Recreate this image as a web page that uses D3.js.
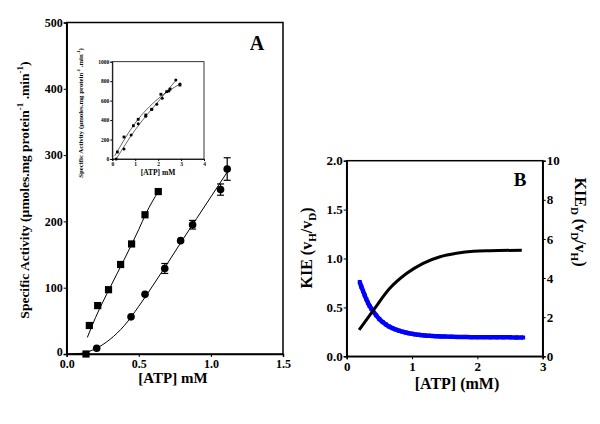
<!DOCTYPE html>
<html><head><meta charset="utf-8">
<script src="https://cdn.jsdelivr.net/npm/d3@7"></script>
<style>body{margin:0;background:#fff}svg{display:block}svg text{font-family:"Liberation Serif",serif !important;font-weight:bold}</style>
</head><body><svg id="c" width="600" height="424"></svg>
<script>
// Panel A main data
const sqX = [0.134,0.157,0.215,0.29,0.374,0.45,0.543,0.635];
const sqY = [0,43,73,97,135,166,210,245];
const sqFitX = [0.143,0.2,0.3,0.4,0.5,0.55,0.635];
const sqFitY = [25,55,100,143,188,212,245];
const ciX = [0.208,0.446,0.543,0.68,0.79,0.873,1.067,1.113];
const ciY = [8.6,56,90,129,171,195,248,279];
const ciErr = [0,0,0,7.5,0,6.5,8.5,17];
const ciFitX = [0.0,0.1,0.2,0.3,0.4,0.5,0.6,0.7,0.8,0.9,1.0,1.1,1.115];
const ciFitY = [0,1,8,22,43,72,104,137,171,204,237,270,275];
// Inset data
const inAX = [0.22,0.51,0.92,1.13,1.46,1.72,2.12,2.37,2.52,2.95];
const inAY = [72,226,342,408,452,511,665,692,719,760];
const inBX = [0.17,0.51,0.82,1.13,1.46,1.72,1.94,2.18,2.47,2.77,2.95];
const inBY = [0,103,247,363,440,511,562,624,700,812,770];
const inAFitX = [0.1,1.0,2.0,2.95];
const inAFitY = [30,370,620,770];
const inBFitX = [0.17,1.0,2.0,2.8];
const inBFitY = [0,300,590,815];
// Panel B data
const kieX = [0.19,0.41,0.66,0.92,1.17,1.43,1.68,1.94,2.19,2.68];
const kieY = [0.269,0.473,0.695,0.849,0.951,1.018,1.053,1.074,1.080,1.084];
const kieDX = [0.20,0.225,0.25,0.275,0.30,0.325,0.35,0.375,0.40,0.45,0.50,0.55,0.60,0.65,0.70,0.75,0.80,0.85,0.90,0.95,1.00,1.05,1.10,1.15,1.20,1.25,1.30,1.35,1.40,1.45,1.50,1.60,1.70,1.80,1.90,2.00,2.10,2.20,2.30,2.40,2.50,2.60,2.70];
const kieDY = [3.80,3.55,3.34,3.12,2.92,2.74,2.58,2.44,2.32,2.10,1.90,1.75,1.63,1.52,1.44,1.37,1.31,1.26,1.22,1.18,1.15,1.12,1.10,1.08,1.06,1.05,1.04,1.03,1.02,1.015,1.01,1.00,0.99,0.99,0.98,0.98,0.98,0.97,0.97,0.97,0.97,0.96,0.96];

const svg = d3.select("#c");
const black="#000";
const FONT = "Liberation Serif";
function styleAxis(g, size){
  g.attr("font-family",FONT);
  g.select(".domain").attr("stroke-width",1.5);
  g.selectAll("text").attr("font-size",size).attr("fill",black).attr("font-family",FONT).attr("font-weight","bold");
}

// ---------- Panel A ----------
const ax = d3.scaleLinear().domain([0,1.5]).range([66.7,283]);
const ay = d3.scaleLinear().domain([0,500]).range([354,22.5]);
const gA = svg.append("g");
gA.append("rect").attr("x",66.7).attr("y",22.5).attr("width",283-66.7).attr("height",354-22.5).attr("fill","none").attr("stroke",black).attr("stroke-width",1.5);
const axA = gA.append("g").attr("transform","translate(0,354)").call(d3.axisBottom(ax).tickValues([0,0.5,1.0,1.5]).tickFormat(d3.format(".1f")).tickSizeOuter(0).tickSize(3).tickPadding(2));
const ayA = gA.append("g").attr("transform","translate(66.7,0)").call(d3.axisLeft(ay).tickValues([0,100,200,300,400,500]).tickFormat(d3.format("d")).tickSizeOuter(0).tickSize(3).tickPadding(1));
styleAxis(axA,12); styleAxis(ayA,12);
ayA.selectAll(".tick").filter(d=>d===0).select("text").attr("dy","0.1em");
const line = (sx,sy)=>d3.line().x(d=>sx(d[0])).y(d=>sy(d[1])).curve(d3.curveMonotoneX);
gA.append("path").attr("d",line(ax,ay)(d3.zip(sqFitX,sqFitY))).attr("fill","none").attr("stroke",black).attr("stroke-width",1);
gA.append("path").attr("d",line(ax,ay)(d3.zip(ciFitX,ciFitY))).attr("fill","none").attr("stroke",black).attr("stroke-width",1);
gA.selectAll(".sq").data(d3.zip(sqX,sqY)).join("rect").attr("x",d=>ax(d[0])-3.6).attr("y",d=>ay(d[1])-3.6).attr("width",7.2).attr("height",7.2).attr("fill",black);
const ciD = d3.zip(ciX,ciY,ciErr);
ciD.filter(d=>d[2]>0).forEach(d=>{
  const x=ax(d[0]);
  gA.append("line").attr("x1",x).attr("x2",x).attr("y1",ay(d[1]-d[2])).attr("y2",ay(d[1]+d[2])).attr("stroke",black).attr("stroke-width",1.2);
  [d[1]-d[2],d[1]+d[2]].forEach(v=>gA.append("line").attr("x1",x-3.5).attr("x2",x+3.5).attr("y1",ay(v)).attr("y2",ay(v)).attr("stroke",black).attr("stroke-width",1.2));
});
gA.selectAll(".ci").data(ciD).join("circle").attr("cx",d=>ax(d[0])).attr("cy",d=>ay(d[1])).attr("r",3.8).attr("fill",black);
gA.append("text").attr("x",257).attr("y",50).attr("text-anchor","middle").attr("font-size",20).attr("font-family",FONT).text("A");
gA.append("text").attr("x",173).attr("y",383).attr("text-anchor","middle").attr("font-size",15).attr("font-family",FONT).text("[ATP] mM");
const yl = gA.append("text").attr("transform","translate(29,190) rotate(-90)").attr("text-anchor","middle").attr("font-size",13.5).attr("font-family",FONT);
yl.append("tspan").text("Specific Activity (µmoles.mg protein");
yl.append("tspan").attr("font-size",9).attr("dy",-6).text("-1");
yl.append("tspan").attr("dy",6).text(" .min");
yl.append("tspan").attr("font-size",9).attr("dy",-6).text("-1");
yl.append("tspan").attr("dy",6).text(")");

// ---------- Inset ----------
const ix = d3.scaleLinear().domain([0,4]).range([112.3,204]);
const iy = d3.scaleLinear().domain([0,1000]).range([159,61.7]);
const gI = svg.append("g");
gI.append("rect").attr("x",112.3).attr("y",61.7).attr("width",204-112.3).attr("height",159-61.7).attr("fill","none").attr("stroke",black).attr("stroke-width",0.8);
const ixA = gI.append("g").attr("transform","translate(0,159)").call(d3.axisBottom(ix).tickValues([0,1,2,3,4]).tickFormat(d3.format("d")).tickSizeOuter(0).tickSize(2).tickPadding(1));
const iyA = gI.append("g").attr("transform","translate(112.3,0)").call(d3.axisLeft(iy).tickValues([0,200,400,600,800,1000]).tickFormat(d3.format("d")).tickSizeOuter(0).tickSize(2).tickPadding(1));
styleAxis(ixA,5.5); styleAxis(iyA,5.5);
ixA.select(".domain").attr("stroke-width",0.8); iyA.select(".domain").attr("stroke-width",0.8);
gI.append("path").attr("d",line(ix,iy)(d3.zip(inAFitX,inAFitY))).attr("fill","none").attr("stroke",black).attr("stroke-width",0.6);
gI.append("path").attr("d",line(ix,iy)(d3.zip(inBFitX,inBFitY))).attr("fill","none").attr("stroke",black).attr("stroke-width",0.6);
gI.selectAll(".isq").data(d3.zip(inAX,inAY)).join("rect").attr("x",d=>ix(d[0])-1.4).attr("y",d=>iy(d[1])-1.4).attr("width",2.8).attr("height",2.8).attr("fill",black);
gI.selectAll(".ici").data(d3.zip(inBX,inBY)).join("circle").attr("cx",d=>ix(d[0])).attr("cy",d=>iy(d[1])).attr("r",1.5).attr("fill",black);
gI.append("text").attr("x",158).attr("y",175).attr("text-anchor","middle").attr("font-size",7.5).attr("font-family",FONT).text("[ATP] mM");
const iyl = gI.append("text").attr("transform","translate(83,113) rotate(-90)").attr("text-anchor","middle").attr("font-size",6.8).attr("font-family",FONT);
iyl.append("tspan").text("Specific Activity (µmoles.mg protein");
iyl.append("tspan").attr("font-size",4.5).attr("dy",-3).text("-1");
iyl.append("tspan").attr("dy",3).text(" .min");
iyl.append("tspan").attr("font-size",4.5).attr("dy",-3).text("-1");
iyl.append("tspan").attr("dy",3).text(")");

// ---------- Panel B ----------
const bx = d3.scaleLinear().domain([0,3]).range([346.7,542.7]);
const byL = d3.scaleLinear().domain([0,2]).range([356.3,160.7]);
const byR = d3.scaleLinear().domain([0,10]).range([356.3,160.7]);
const gB = svg.append("g");
gB.append("rect").attr("x",346.7).attr("y",160.7).attr("width",542.7-346.7).attr("height",356.3-160.7).attr("fill","none").attr("stroke",black).attr("stroke-width",1.5);
const bxA = gB.append("g").attr("transform","translate(0,356.3)").call(d3.axisBottom(bx).tickValues([0,1,2,3]).tickFormat(d3.format("d")).tickSizeOuter(0).tickSize(3).tickPadding(2));
const byLA = gB.append("g").attr("transform","translate(346.7,0)").call(d3.axisLeft(byL).tickValues([0,0.5,1,1.5,2]).tickFormat(d3.format(".1f")).tickSizeOuter(0).tickSize(3).tickPadding(1));
const byRA = gB.append("g").attr("transform","translate(542.7,0)").call(d3.axisRight(byR).tickValues([0,2,4,6,8,10]).tickFormat(d3.format("d")).tickSizeOuter(0).tickSize(3).tickPadding(1));
styleAxis(bxA,13); styleAxis(byLA,13); styleAxis(byRA,13);
gB.append("path").attr("d",d3.line().x(d=>bx(d[0])).y(d=>byR(d[1])).curve(d3.curveMonotoneX)(d3.zip(kieDX,kieDY))).attr("fill","none").attr("stroke","#0000ff").attr("stroke-width",4.5);
gB.selectAll(".bsq").data(d3.zip(kieDX,kieDY)).join("rect").attr("x",d=>bx(d[0])-2).attr("y",d=>byR(d[1])-2).attr("width",4).attr("height",4).attr("fill","#0000ff");
gB.append("path").attr("d",d3.line().x(d=>bx(d[0])).y(d=>byL(d[1])).curve(d3.curveMonotoneX)(d3.zip(kieX,kieY))).attr("fill","none").attr("stroke",black).attr("stroke-width",3);
gB.append("text").attr("x",520).attr("y",186).attr("text-anchor","middle").attr("font-size",19).attr("font-family",FONT).text("B");
gB.append("text").attr("x",457).attr("y",389).attr("text-anchor","middle").attr("font-size",16).attr("font-family",FONT).text("[ATP] (mM)");
const bl = gB.append("text").attr("transform","translate(312,248) rotate(-90)").attr("text-anchor","middle").attr("font-size",16).attr("font-family",FONT);
bl.append("tspan").text("KIE (v");
bl.append("tspan").attr("font-size",11).attr("dy",4).text("H");
bl.append("tspan").attr("dy",-4).text("/v");
bl.append("tspan").attr("font-size",11).attr("dy",4).text("D");
bl.append("tspan").attr("dy",-4).text(")");
const br = gB.append("text").attr("transform","translate(575,222) rotate(90)").attr("text-anchor","middle").attr("font-size",16).attr("font-family",FONT);
br.append("tspan").text("KIE");
br.append("tspan").attr("font-size",11).attr("dy",4).text("D");
br.append("tspan").attr("dy",-4).text(" (v");
br.append("tspan").attr("font-size",11).attr("dy",4).text("D");
br.append("tspan").attr("dy",-4).text("/v");
br.append("tspan").attr("font-size",11).attr("dy",4).text("H");
br.append("tspan").attr("dy",-4).text(")");
</script></body></html>
